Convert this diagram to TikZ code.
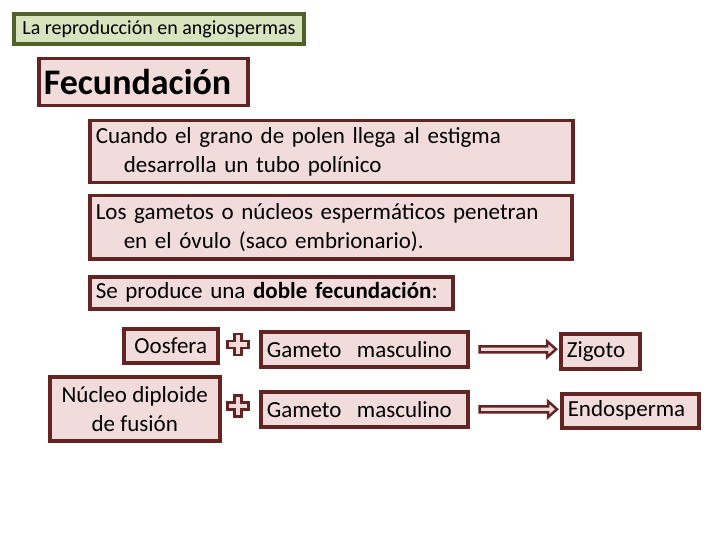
\documentclass[tikz,border=0pt]{standalone}
\usepackage{fontspec}
\setmainfont{Carlito}
\usetikzlibrary{calc,positioning}

\definecolor{maroon}{HTML}{632523}
\definecolor{rosa}{HTML}{F2DCDB}
\definecolor{olive}{HTML}{4F6228}
\definecolor{verde}{HTML}{D7E4BD}

\tikzset{
	caja/.style={draw=maroon,fill=rosa,line width=3.5pt,anchor=north west,
		inner xsep=6pt,inner ysep=0pt,font=\fontsize{23}{29}\selectfont},
	izq/.style={align=left,text width=#1},
	mas/.style={draw=maroon,fill=rosa,line width=2.5pt,line join=miter},
	flecha/.style={draw=maroon,fill=rosa,line width=2.5pt,line join=miter},
}

\newcommand{\cruz}[1]{%
	\path[mas] ($(#1)+(-3.5,-10.5)$) -- ++(7,0) -- ++(0,7) -- ++(7,0) -- ++(0,7)
		-- ++(-7,0) -- ++(0,7) -- ++(-7,0) -- ++(0,-7) -- ++(-7,0)
		-- ++(0,-7) -- ++(7,0) -- cycle;}

\newcommand{\bloque}[2]{%
	\path[flecha] let \p1=($(#1.east)+(10,0)$), \p2=($(#2.west)+(-3,0)$) in
		(\x1,\y1-3pt) -- (\x2-9pt,\y1-3pt) -- (\x2-9pt,\y1-8pt) -- (\x2,\y1)
		-- (\x2-9pt,\y1+8pt) -- (\x2-9pt,\y1+3pt) -- (\x1,\y1+3pt) -- cycle;}

\begin{document}
\begin{tikzpicture}[x=1pt,y=-1pt]

\useasboundingbox[fill=white] (0,0) rectangle (720,540);

% titulo
\node[draw=olive,fill=verde,line width=4pt,anchor=north west,minimum width=290pt,
	minimum height=30pt,inner xsep=4pt,font=\fontsize{20}{22}\selectfont]
	(titulo) at (12,12) {La reproducción en angiospermas};

\node[caja,minimum width=209pt,minimum height=47pt,izq=199pt,inner xsep=5pt,
	font=\fontsize{36}{38}\selectfont\bfseries] (fec) at (37,57) {Fecundación};

% textos
\node[caja,minimum width=483pt,minimum height=62pt,izq=471pt] (cuando) at (88,119)
	{Cuando el grano de polen llega al estigma\\\hspace*{28pt}desarrolla un tubo polínico};
\node[caja,minimum width=482pt,minimum height=63pt,izq=470pt] (gametos) at (88,194)
	{Los gametos o núcleos espermáticos penetran\\\hspace*{28pt}en el óvulo (saco embrionario).};
\node[caja,minimum width=363pt,minimum height=32pt,izq=351pt] (doble) at (88,275)
	{Se produce una \textbf{doble fecundación}:};

% doble fecundacion
\node[caja,minimum width=94pt,minimum height=34pt,align=center] (oosfera) at (122,327) {Oosfera};
\node[caja,minimum width=207pt,minimum height=35pt,izq=195pt] (gam1) at (259,330) {Gameto\ \ masculino};
\node[caja,minimum width=170pt,minimum height=64pt,align=center,inner xsep=2pt] (nucleo) at (48,375)
	{Núcleo diploide\\de fusión};
\node[caja,minimum width=207pt,minimum height=35pt,izq=195pt] (gam2) at (259,390) {Gameto\ \ masculino};
\node[caja,minimum width=79pt,minimum height=35pt,izq=67pt] (zigoto) at (559,332) {Zigoto};
\node[caja,minimum width=137pt,minimum height=34pt,izq=125pt] (endo) at (560,392) {Endosperma};

\coordinate (c1) at (238,344.5);
\coordinate (c2) at (238,406);
\cruz{c1}
\cruz{c2}

\bloque{gam1}{zigoto}
\bloque{gam2}{endo}

\end{tikzpicture}
\end{document}
